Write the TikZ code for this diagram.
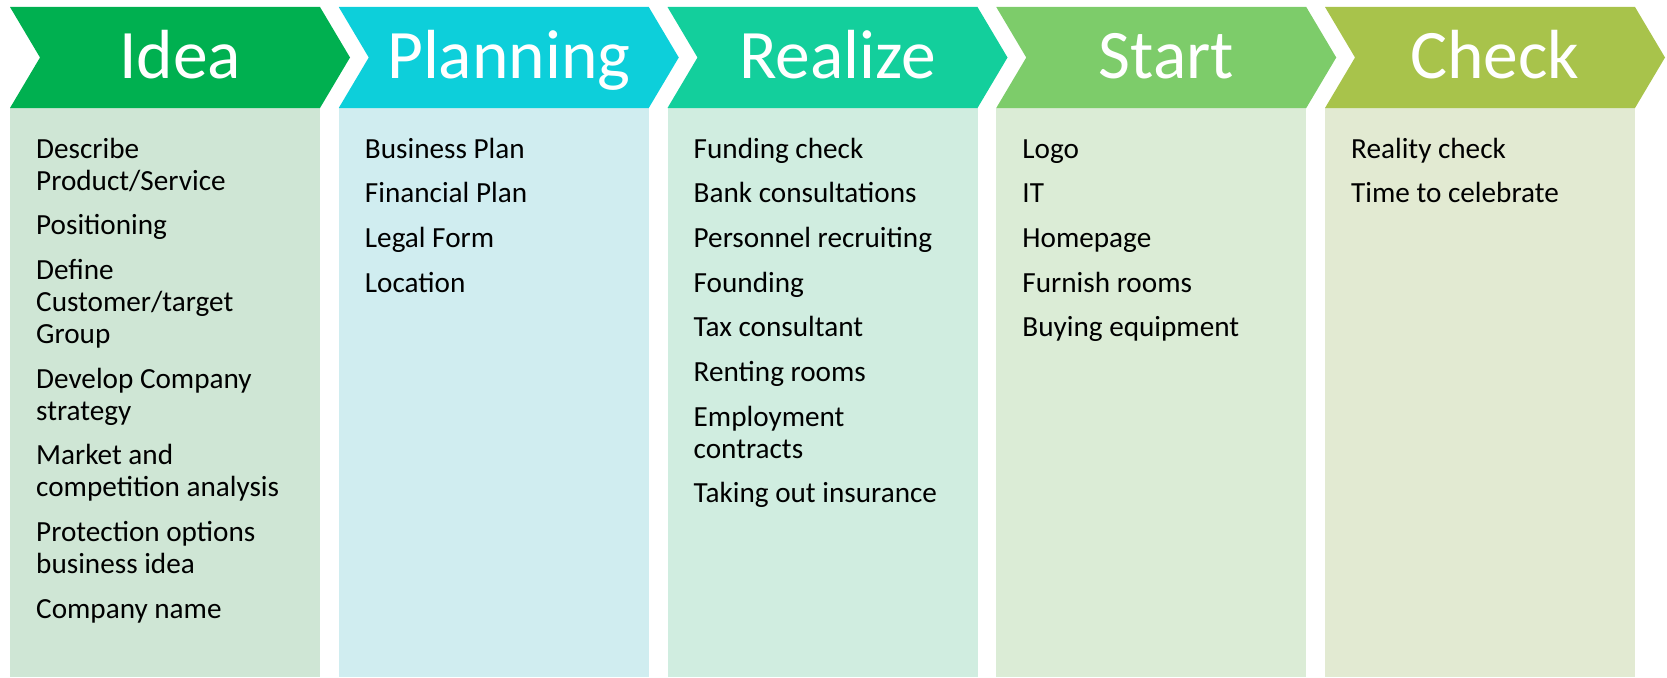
\documentclass[tikz,border=0pt]{standalone}
\usepackage{fontspec}
\setmainfont{Carlito}
\definecolor{hA}{HTML}{00B050}
\definecolor{hB}{HTML}{0DCFDA}
\definecolor{hC}{HTML}{13CF9C}
\definecolor{hD}{HTML}{7DCC6A}
\definecolor{hE}{HTML}{A8C34B}
\definecolor{bA}{HTML}{CFE6D5}
\definecolor{bB}{HTML}{D0EDF0}
\definecolor{bC}{HTML}{D0EDE0}
\definecolor{bD}{HTML}{DBECD6}
\definecolor{bE}{HTML}{E2EAD2}
\newcommand{\itm}[1]{\parbox[t]{300pt}{\raggedright #1}}
\tikzset{
  headtext/.style={anchor=base, text=white, inner sep=0pt, font=\fontsize{69.5}{84}\selectfont},
  itemtext/.style={anchor=base west, text=black, inner sep=0pt, font=\fontsize{29.2}{32}\selectfont},
}
\begin{document}
\begin{tikzpicture}[x=1pt,y=-1pt]
\useasboundingbox (0,0) rectangle (1667,677);
\foreach \i/\name/\hc/\bc in {0/Idea/hA/bA,1/Planning/hB/bB,2/Realize/hC/bC,3/Start/hD/bD,4/Check/hE/bE}{
  \pgfmathsetmacro{\L}{10+328.75*\i}
  \fill[\bc] (\L,108) rectangle ({\L+310},677);
  \fill[\hc] (\L,7) -- ({\L+310},7) -- ({\L+340},57.5) -- ({\L+310},108) -- (\L,108) -- ({\L+30},57.5) -- cycle;
  \node[headtext] (h\i) at ({\L+170},78) {\name};
}
% Idea
\def\xa{36}
\node[itemtext] (a1) at (\xa,158) {\itm{Describe\\Product/Service}};
\node[itemtext] (a2) at (\xa,234.7) {\itm{Positioning}};
\node[itemtext] (a3) at (\xa,279.4) {\itm{Define\\Customer/target\\Group}};
\node[itemtext] (a4) at (\xa,388.1) {\itm{Develop Company\\strategy}};
\node[itemtext] (a5) at (\xa,464.8) {\itm{Market and\\competition analysis}};
\node[itemtext] (a6) at (\xa,541.5) {\itm{Protection options\\business idea}};
\node[itemtext] (a7) at (\xa,618.2) {\itm{Company name}};
% Planning
\def\xb{364.75}
\node[itemtext] (b1) at (\xb,158) {\itm{Business Plan}};
\node[itemtext] (b2) at (\xb,202.7) {\itm{Financial Plan}};
\node[itemtext] (b3) at (\xb,247.4) {\itm{Legal Form}};
\node[itemtext] (b4) at (\xb,292.1) {\itm{Location}};
% Realize
\def\xc{693.5}
\node[itemtext] (c1) at (\xc,158) {\itm{Funding check}};
\node[itemtext] (c2) at (\xc,202.7) {\itm{Bank consultations}};
\node[itemtext] (c3) at (\xc,247.4) {\itm{Personnel recruiting}};
\node[itemtext] (c4) at (\xc,292.1) {\itm{Founding}};
\node[itemtext] (c5) at (\xc,336.8) {\itm{Tax consultant}};
\node[itemtext] (c6) at (\xc,381.5) {\itm{Renting rooms}};
\node[itemtext] (c7) at (\xc,426.2) {\itm{Employment\\contracts}};
\node[itemtext] (c8) at (\xc,502.9) {\itm{Taking out insurance}};
% Start
\def\xd{1022.25}
\node[itemtext] (d1) at (\xd,158) {\itm{Logo}};
\node[itemtext] (d2) at (\xd,202.7) {\itm{IT}};
\node[itemtext] (d3) at (\xd,247.4) {\itm{Homepage}};
\node[itemtext] (d4) at (\xd,292.1) {\itm{Furnish rooms}};
\node[itemtext] (d5) at (\xd,336.8) {\itm{Buying equipment}};
% Check
\def\xe{1351}
\node[itemtext] (e1) at (\xe,158) {\itm{Reality check}};
\node[itemtext] (e2) at (\xe,202.7) {\itm{Time to celebrate}};
\end{tikzpicture}
\end{document}
